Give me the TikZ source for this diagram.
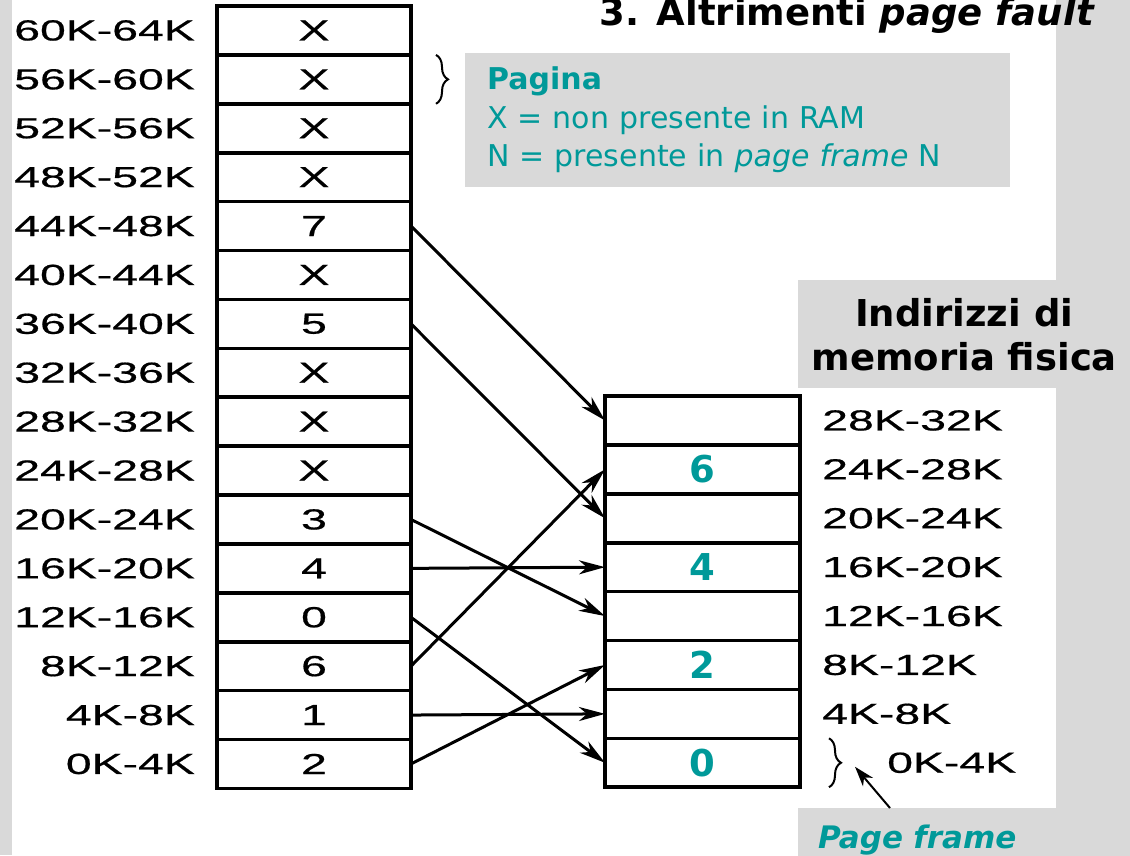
\documentclass[tikz,border=0pt]{standalone}
\usepackage{fontspec}
\setmainfont{DejaVu Sans}
\newfontfamily\addrfont[FakeStretch=1.6,FakeBold=0.6]{Liberation Sans}
\usetikzlibrary{arrows.meta,decorations.pathreplacing}
\usetikzlibrary{positioning}

\begin{document}
\begin{tikzpicture}[x=1pt,y=-1pt,
    page/.style={draw,line width=3.6pt,outer sep=0pt,inner sep=0pt,minimum width=194pt,minimum height=48.9pt,font=\addrfont\fontsize{29}{29}\selectfont},
    frame/.style={page,minimum width=195pt,text=pfcolor,font=\bfseries\fontsize{37}{37}\selectfont},
    addr/.style={inner sep=0pt,font=\addrfont\fontsize{29}{29}\selectfont},
    map/.style={-{Stealth[length=26pt,width=14pt,inset=8pt]},line width=3pt},
    brace/.style={decorate,decoration={brace,amplitude=12pt},line width=2pt}]
    \definecolor{pfcolor}{rgb}{0.00,0.60,0.60}
    \definecolor{back}{rgb}{0.85,0.85,0.85}
    \useasboundingbox (0,0) rectangle (1130,855);
    \fill[back] (0,0) rectangle (1130,855);
    \fill[white] (12,0) rectangle (1056,855);

    \node[fill=back,anchor=north west,inner xsep=22pt,inner ysep=0pt,text width=501pt,minimum height=134pt,align=left,text=pfcolor,font=\fontsize{30}{38.5}\selectfont] (legend) at (465,53) {\textbf{Pagina}\\X = non presente in RAM\\N = presente in \textit{page frame} N};
    \node[fill=back,anchor=north west,minimum width=332pt,minimum height=108pt,align=center,font=\bfseries\fontsize{37}{44}\selectfont] (phys) at (798,280) {Indirizzi di\\memoria fisica};
    \node[fill=back,anchor=north west,inner xsep=20pt,inner ysep=17pt,text width=292pt,align=left,text=pfcolor,font=\bfseries\itshape\fontsize{31}{31}\selectfont] (pf) at (798,808) {Page frame};
    \node[anchor=base east,inner sep=0pt,font=\bfseries\fontsize{37}{37}\selectfont] (title) at (1095,25) {3. Altrimenti \textit{page fault}};

    % pagine virtuali
    \node[page] (pg15) at (314,30.45) {X};          \node[addr,left=22pt of pg15] (ad15) {60K-64K};
    \node[page,below=0pt of pg15] (pg14) {X};       \node[addr,left=22pt of pg14] (ad14) {56K-60K};
    \node[page,below=0pt of pg14] (pg13) {X};       \node[addr,left=22pt of pg13] (ad13) {52K-56K};
    \node[page,below=0pt of pg13] (pg12) {X};       \node[addr,left=22pt of pg12] (ad12) {48K-52K};
    \node[page,below=0pt of pg12] (pg11) {7};       \node[addr,left=22pt of pg11] (ad11) {44K-48K};
    \node[page,below=0pt of pg11] (pg10) {X};       \node[addr,left=22pt of pg10] (ad10) {40K-44K};
    \node[page,below=0pt of pg10] (pg9) {5};        \node[addr,left=22pt of pg9] (ad9) {36K-40K};
    \node[page,below=0pt of pg9] (pg8) {X};         \node[addr,left=22pt of pg8] (ad8) {32K-36K};
    \node[page,below=0pt of pg8] (pg7) {X};         \node[addr,left=22pt of pg7] (ad7) {28K-32K};
    \node[page,below=0pt of pg7] (pg6) {X};         \node[addr,left=22pt of pg6] (ad6) {24K-28K};
    \node[page,below=0pt of pg6] (pg5) {3};         \node[addr,left=22pt of pg5] (ad5) {20K-24K};
    \node[page,below=0pt of pg5] (pg4) {4};         \node[addr,left=22pt of pg4] (ad4) {16K-20K};
    \node[page,below=0pt of pg4] (pg3) {0};         \node[addr,left=22pt of pg3] (ad3) {12K-16K};
    \node[page,below=0pt of pg3] (pg2) {6};         \node[addr,left=22pt of pg2] (ad2) {8K-12K};
    \node[page,below=0pt of pg2] (pg1) {1};         \node[addr,left=22pt of pg1] (ad1) {4K-8K};
    \node[page,below=0pt of pg1] (pg0) {2};         \node[addr,left=22pt of pg0] (ad0) {0K-4K};

    % page frame
    \node[frame] (fr7) at (702.5,420.45) {};        \node[addr,right=22pt of fr7] (af7) {28K-32K};
    \node[frame,below=0pt of fr7] (fr6) {6};        \node[addr,right=22pt of fr6] (af6) {24K-28K};
    \node[frame,below=0pt of fr6] (fr5) {};         \node[addr,right=22pt of fr5] (af5) {20K-24K};
    \node[frame,below=0pt of fr5] (fr4) {4};        \node[addr,right=22pt of fr4] (af4) {16K-20K};
    \node[frame,below=0pt of fr4] (fr3) {};         \node[addr,right=22pt of fr3] (af3) {12K-16K};
    \node[frame,below=0pt of fr3] (fr2) {2};        \node[addr,right=22pt of fr2] (af2) {8K-12K};
    \node[frame,below=0pt of fr2] (fr1) {};         \node[addr,right=22pt of fr1] (af1) {4K-8K};
    \node[frame,below=0pt of fr1] (fr0) {0};        \node[addr,right=87pt of fr0] (af0) {0K-4K};

    \draw[brace] ([xshift=25pt]pg14.north east) -- ([xshift=25pt]pg14.south east);
    \draw[brace] ([xshift=29pt]fr0.north east) -- ([xshift=29pt]fr0.south east);
    \coordinate (tip) at ([xshift=55pt,yshift=-4pt]fr0.east);
    \draw[-{Stealth[length=20pt,width=13pt,inset=6pt]},line width=2pt] ([xshift=92pt]pf.north west) -- (tip);

    \draw[map] (pg11.east) -- (fr7.west);
    \draw[map] (pg9.east) -- (fr5.west);
    \draw[map] (pg5.east) -- (fr3.west);
    \draw[map] (pg4.east) -- (fr4.west);
    \draw[map] (pg3.east) -- (fr0.west);
    \draw[map] (pg2.east) -- (fr6.west);
    \draw[map] (pg1.east) -- (fr1.west);
    \draw[map] (pg0.east) -- (fr2.west);
\end{tikzpicture}
\end{document}
